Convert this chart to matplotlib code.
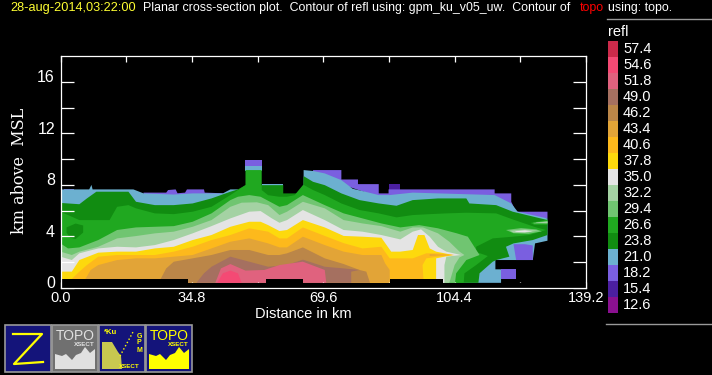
import numpy as np
import matplotlib
matplotlib.use('Agg')
import matplotlib.pyplot as plt
from matplotlib.patches import Rectangle
from matplotlib.transforms import ScaledTranslation

# legend levels and colours
levels = [57.4, 54.6, 51.8, 49.0, 46.2, 43.4, 40.6, 37.8, 35.0, 32.2, 29.4, 26.6, 23.8, 21.0, 18.2, 15.4, 12.6]
colors = ['#cc2a4a', '#f44a74', '#e0627e', '#a57060', '#bb8648', '#e2a437', '#fdb91c', '#fdd90d', '#e4e4e4',
          '#a4d2a3', '#70c571', '#20a820', '#118c11', '#6cb0d0', '#7a5fe0', '#4b1fa0', '#8a1090']
level_color = dict(zip(levels, colors))

x_ticks = [0, 17.4, 34.8, 52.2, 69.6, 87.0, 104.4, 121.8, 139.2]
x_labels = ['0.0', '', '34.8', '', '69.6', '', '104.4', '', '139.2']
y_ticks = [0, 2, 4, 6, 8, 10, 12, 14, 16]
y_labels = ['0', '', '4', '', '8', '', '12', '', '16']

# contour outlines: distance (km), height (km)
dist_15 = [86.9, 89.8, 89.8, 86.9]
height_15 = [8.06, 8.06, 7.6, 7.6]

dist_18a = [0.8, 3.5, 3.5, 0.8]
height_18a = [7.65, 7.65, 7.45, 7.45]
dist_18b = [22, 28, 28.5, 30.5, 31, 33, 33.5, 38, 38.2, 43, 43, 22]
height_18b = [7.4, 7.4, 7.6, 7.65, 7.35, 7.4, 7.65, 7.65, 7.4, 7.35, 7.1, 7.1]
dist_18c = [66.9, 74.4, 74.4, 78.8, 78.8, 84.3, 84.3, 86.9, 86.9, 115, 115, 119.4, 119.4, 120.7, 129, 129, 120, 90, 66.9]
height_18c = [9.15, 9.15, 8.42, 8.42, 8.06, 8.06, 7.34, 7.34, 7.65, 7.65, 7.34, 7.34, 6.69, 5.92, 5.92, 5.4, 5.5, 6.5, 8.8]
dist_18d = [49, 53.3, 53.3, 49]
height_18d = [9.92, 9.92, 9.4, 9.4]

dist_21a = [0, 7.6, 8.2, 8.5, 19.3, 22, 30, 35, 43, 45, 47, 47, 0]
height_21a = [7.65, 7.65, 8.0, 7.65, 7.65, 7.34, 7.25, 7.34, 7.34, 7.65, 7.65, 6.5, 6.0]
dist_21b = [49, 53.3, 53.3, 49]
height_21b = [9.46, 9.46, 9.1, 9.1]
dist_21c = [53.3, 59, 59, 53.3]
height_21c = [8.06, 8.06, 7.9, 7.9]
dist_21d = [64.4, 66.9, 70, 74.4, 77.4, 81, 84.3, 87.2, 93.3, 115, 119.4, 121.1, 129, 129, 125.7, 125.1, 115.2, 115.2,
            116.7, 116.7, 64.4]
height_21d = [9.15, 9.08, 8.89, 8.37, 7.7, 7.45, 7.21, 7.21, 7.4, 7.21, 6.56, 5.92, 5.4, 3.67, 3.46, 2.17, 2.17, 1.45,
              1.45, 0.4, 0.4]

dist_24 = [0, 5, 7, 9.5, 18, 20, 25, 30, 35, 40, 45, 47, 49, 53.3, 59, 59, 64.2, 64.4, 66.9, 70, 74.4, 79.2, 84.3, 89,
           93.3, 100, 107.5, 108.3, 115.4, 119.8, 129, 129, 125.1, 120, 118, 118.9, 115.4, 114.5, 111, 110.7, 0]
height_24 = [6.6, 6.5, 6.95, 7.47, 7.47, 6.69, 6.43, 6.43, 6.56, 6.95, 7.47, 7.65, 7.98, 7.98, 7.98, 7.34, 7.34, 8.68,
             8.24, 7.98, 7.34, 6.82, 6.56, 6.38, 6.82, 6.95, 6.95, 6.56, 6.43, 5.92, 5.27, 4.11, 3.72, 3.46, 3.2, 2.43,
             2.17, 2.04, 1.14, 0.4, 0.4]

dist_27 = [0, 3, 5, 13, 15, 18, 20, 25, 30, 35, 40, 45, 49, 49, 53.3, 53.3, 55, 58, 60, 62, 64.2, 64.4, 66.9, 70, 74.4,
           79.2, 84.3, 89, 93.3, 97.8, 102.2, 107.5, 115.4, 119.8, 124.2, 126, 128.6, 124.2, 119.8, 114.5, 110.1, 110.1,
           113.2, 110.1, 107, 106.8, 0]
height_27 = [5.92, 5.53, 5.27, 5.27, 6.3, 6.43, 6.18, 5.79, 5.73, 5.92, 6.3, 7.21, 7.98, 9.15, 9.15, 7.6, 7.2, 7.08,
             7.08, 7.2, 7.98, 8.0, 7.6, 7.21, 6.56, 6.05, 5.79, 5.48, 5.66, 5.73, 5.79, 5.84, 5.79, 5.32, 4.88, 4.7, 4.5,
             4.11, 3.98, 3.85, 3.2, 2.8, 2.48, 1.78, 1.14, 0.4, 0.4]
dist_blob = [1.6, 4, 6, 6, 4, 2.5, 1.6]
height_blob = [4.7, 5.0, 4.85, 4.3, 3.8, 3.9, 4.3]

dist_29 = [0, 2, 5, 10, 15, 20, 25, 30, 35, 40, 45, 47, 50, 53, 58, 60, 64.2, 70, 75, 80, 85, 90, 95, 100, 105, 107.9,
           111, 107.5, 104.8, 104.5, 0]
height_29 = [3.46, 3.07, 3.15, 3.72, 4.5, 4.7, 4.75, 4.8, 5.14, 5.79, 6.82, 7.08, 7.21, 7.08, 6.3, 6.43, 7.21, 6.43,
             5.79, 5.4, 5.01, 4.7, 4.88, 4.63, 4.24, 3.98, 2.56, 2.17, 1.14, 0.4, 0.4]

dist_32 = [0, 3, 5, 10, 15, 20, 25, 30, 35, 40, 45, 48, 52, 55, 58, 60, 64.2, 70, 75, 80, 85, 90, 93.3, 96, 100, 103,
           105.7, 107, 105.7, 104.4, 103, 0]
height_32 = [2.82, 2.56, 2.82, 3.2, 3.85, 4.03, 4.24, 4.37, 4.75, 5.27, 6.3, 6.62, 6.65, 6.43, 5.66, 5.92, 6.69, 6.18,
             5.27, 5.01, 4.8, 4.37, 4.7, 4.7, 4.24, 3.59, 2.82, 2.56, 2.38, 1.78, 0.4, 0.4]

dist_35 = [0, 3, 5, 10, 15, 20, 25, 30, 35, 40, 45, 50, 53, 56, 58, 60, 64.2, 70, 75, 80, 85, 90, 93.3, 95.5, 97.8, 100,
           102.2, 106.1, 102.2, 101.7, 101.7, 0]
height_35 = [2.43, 2.17, 2.69, 3.07, 3.2, 3.15, 3.33, 3.72, 4.24, 4.8, 5.4, 5.92, 5.97, 5.4, 5.06, 5.27, 6.05, 5.27,
             4.5, 4.37, 4.11, 3.77, 4.37, 4.55, 3.98, 3.2, 2.82, 2.56, 2.43, 1.78, 0.4, 0.4]

dist_38 = [0, 3, 5, 10, 15, 20, 25, 30, 35, 40, 45, 50, 53, 55, 58, 60, 64.2, 70, 75, 80, 85, 87.6, 90, 93.3, 94.7, 96.4,
           97.8, 99.5, 104, 99.5, 99.5, 0]
height_38 = [1.27, 1.27, 2.17, 2.74, 2.82, 2.82, 3.07, 3.2, 3.72, 4.11, 4.75, 5.14, 5.14, 4.88, 4.42, 4.5, 5.27, 4.7,
             4.04, 3.98, 3.9, 2.82, 2.82, 2.95, 4.11, 4.11, 3.07, 2.82, 2.56, 2.3, 0.4, 0.4]

dist_41 = [3, 5, 7, 10, 15, 20, 25, 30, 35, 40, 45, 50, 55, 58, 60, 64.2, 70, 75, 80, 85, 87.2, 93.3, 96.9, 100, 104.4,
           100, 96.9, 95.9, 96.2, 3]
height_41 = [0.7, 1.27, 1.78, 2.43, 2.56, 2.56, 2.56, 2.82, 3.2, 3.72, 4.11, 4.63, 4.37, 3.85, 3.85, 4.7, 4.04, 3.48,
             3.07, 3.2, 2.3, 2.3, 2.69, 2.69, 2.56, 2.43, 2.3, 1.78, 0.4, 0.4]

dist_43 = [6, 8, 10, 15, 20, 25, 30, 35, 40, 45, 50, 55, 58, 60, 64.2, 70, 75, 80, 85, 86, 87.2, 87.2]
height_43 = [0.4, 1.4, 1.78, 2.17, 2.3, 2.3, 2.43, 2.56, 3.07, 3.59, 3.85, 3.46, 3.15, 3.15, 3.98, 3.33, 2.82, 2.56,
             2.56, 1.9, 1.4, 0.4]
dist_43b = [97.8, 103, 97.8]
height_43b = [2.5, 2.56, 2.62]

dist_46 = [26, 28, 30, 35, 40, 45, 50, 55, 58, 60, 64.2, 70, 75, 79.2, 81, 82]
height_46 = [0.4, 1.52, 2.04, 2.3, 2.56, 2.95, 2.95, 2.56, 2.56, 2.69, 3.15, 2.3, 1.86, 1.4, 1.27, 0.4]

dist_49 = [36, 38, 40, 45, 50, 55, 60, 64.2, 70, 75, 79.2, 77, 77]
height_49 = [0.4, 1.14, 1.65, 2.43, 2.04, 1.65, 1.78, 2.2, 1.65, 1.52, 1.4, 1.27, 0.4]

dist_52 = [41, 42.5, 45, 49, 54, 58, 64.2, 70, 70.4]
height_52 = [0.4, 1.52, 1.86, 1.35, 1.4, 1.78, 2.04, 1.4, 0.4]

dist_55 = [41.5, 43, 45, 47, 48]
height_55 = [0.4, 1.14, 1.35, 1.14, 0.4]

# patches on top of the lower levels, right of the main body
dist_18e = [116.7, 120.7, 120.7, 116.7]
height_18e = [1.45, 1.45, 0.7, 0.7]
dist_18f = [120, 123, 125.1, 125.1, 120.7]
height_18f = [3.4, 3.4, 3.3, 2.17, 2.17]

dist_lens_29 = [118, 122, 126, 127.5, 124, 120]
height_lens_29 = [4.5, 4.65, 4.55, 4.4, 4.2, 4.25]
dist_lens_32 = [119, 123, 126.5, 123, 120]
height_lens_32 = [4.45, 4.55, 4.45, 4.28, 4.3]
dist_lens_35 = [120.5, 123, 125, 123, 120.5]
height_lens_35 = [4.4, 4.48, 4.4, 4.33, 4.35]
dist_lens2_27 = [124.5, 129, 129, 125.5]
height_lens2_27 = [5.05, 5.3, 4.9, 4.9]
dist_lens2_29 = [125.1, 129, 129, 125.5]
height_lens2_29 = [5.05, 5.2, 5.0, 5.0]
dist_lens2_32 = [126, 129, 129, 126]
height_lens2_32 = [5.08, 5.15, 5.03, 5.05]

# black gap at the bottom of the section
floor_dist = [0, 33.8, 54.5, 64.3, 87.2, 101.3, 139.2]
floor_height = [0.7, 0.41, 0.7, 0.41, 0.7, 0.41, 0.41]

layers = [
    (dist_15, height_15, 15.4), (dist_18a, height_18a, 18.2), (dist_18b, height_18b, 18.2),
    (dist_18c, height_18c, 18.2), (dist_18d, height_18d, 18.2), (dist_21a, height_21a, 21.0),
    (dist_21b, height_21b, 21.0), (dist_21c, height_21c, 21.0), (dist_21d, height_21d, 21.0),
    (dist_18e, height_18e, 18.2), (dist_18f, height_18f, 18.2), (dist_24, height_24, 23.8),
    (dist_27, height_27, 26.6), (dist_blob, height_blob, 23.8), (dist_lens2_27, height_lens2_27, 26.6),
    (dist_lens_29, height_lens_29, 29.4), (dist_lens_32, height_lens_32, 32.2), (dist_lens_35, height_lens_35, 35.0),
    (dist_lens2_29, height_lens2_29, 29.4), (dist_lens2_32, height_lens2_32, 32.2),
    (dist_29, height_29, 29.4), (dist_32, height_32, 32.2), (dist_35, height_35, 35.0),
    (dist_38, height_38, 37.8), (dist_41, height_41, 40.6), (dist_43, height_43, 43.4),
    (dist_43b, height_43b, 43.4), (dist_46, height_46, 46.2), (dist_49, height_49, 49.0),
    (dist_52, height_52, 51.8), (dist_55, height_55, 54.6),
]

W, H = 712, 375
plt.rcParams['font.family'] = ['Liberation Sans', 'DejaVu Sans']
fig = plt.figure(figsize=(W / 100, H / 100), dpi=100, facecolor='black')

ax = fig.add_axes([60.5 / W, (H - 288) / H, 525.5 / W, 232 / H], facecolor='black')
for d, h, lev in layers:
    ax.fill(d, h, color=level_color[lev], lw=0)
ax.fill_between(floor_dist, 0, floor_height, step='post', color='black', lw=0, zorder=3)
ax.set_xlim(0, 139.2)
ax.set_ylim(0, 18)
for s in ax.spines.values():
    s.set_color('white')
    s.set_linewidth(0.9)
    s.set_zorder(5)
ax.set_xticks(x_ticks)
ax.set_xticklabels(x_labels)
ax.set_yticks(y_ticks)
ax.set_yticklabels(y_labels)
ax.tick_params(axis='x', direction='in', top=True, length=4.3, width=0.9, colors='white', labelsize=10.5, pad=2)
ax.tick_params(axis='y', direction='in', right=True, length=9.5, width=0.9, colors='white', labelsize=11.5, pad=4)
shift = ScaledTranslation(0, 4 / 72, fig.dpi_scale_trans)
for lab in ax.get_yticklabels():
    lab.set_transform(lab.get_transform() + shift)

# screen overlay, in pixels, for the header, legend and buttons
ov = fig.add_axes([0, 0, 1, 1], facecolor='none')
ov.set_xlim(0, W)
ov.set_ylim(H, 0)
ov.axis('off')

ov.text(303, 314, 'Distance in km', color='white', fontsize=10.5, ha='center', va='center')
ov.text(20, 171, 'km above  MSL', color='white', fontsize=11.5, family='DejaVu Serif', rotation=90, ha='center', va='center')

ov.text(10, 8, '28-aug-2014,03:22:00', color='#ffff33', fontsize=9.2, va='center')
ov.text(143, 8, 'Planar cross-section plot.  Contour of refl using: gpm_ku_v05_uw.  Contour of', color='white', fontsize=8.95, va='center')
ov.text(580, 8, 'topo', color='red', fontsize=8.95, va='center')
ov.text(608, 8, 'using: topo.', color='white', fontsize=8.95, va='center')

ov.plot([607, 712], [19, 19], color='#999999', lw=1)
ov.plot([606, 712], [324, 324], color='#999999', lw=1)
ov.text(608, 32, 'refl', color='white', fontsize=10.5, va='center')
for i, (lev, col) in enumerate(zip(levels, colors)):
    ov.add_patch(Rectangle((608, 41 + 16 * i), 10, 16, color=col, lw=0))
    ov.text(623, 49 + 16 * i, '%.1f' % lev, color='white', fontsize=10.5, va='center')

# buttons
navy = '#14147a'
for i, x0 in enumerate([5, 52, 99, 146]):
    face = '#707070' if i == 1 else navy
    ov.add_patch(Rectangle((x0, 325), 46, 47, facecolor=face, edgecolor='#999999', lw=1.2))

ov.plot([13, 42, 14, 43], [334, 334, 364, 362], color='yellow', lw=1.6)

ground_x = np.array([3, 10, 14, 20, 24, 29, 33, 38, 43, 43, 3])
ground_y = np.array([29, 31, 29, 35, 30, 28, 22, 28, 24, 44, 44]) + 325
ov.fill(ground_x + 52, ground_y, color='#e0e0e0', lw=0)
ov.text(75, 336, 'TOPO', color='#e0e0e0', fontsize=10, ha='center', va='center')
ov.text(84, 344, 'XSECT', color='#e0e0e0', fontsize=4.5, ha='center', va='center', weight='bold')

ov.fill(ground_x + 146, ground_y, color='yellow', lw=0)
ov.text(169, 336, 'TOPO', color='yellow', fontsize=10, ha='center', va='center')
ov.text(178, 344, 'XSECT', color='yellow', fontsize=4.5, ha='center', va='center', weight='bold')

ov.fill([102, 112, 118, 121, 122, 102], [342, 342, 352, 356, 369, 369], color='#c8c850', lw=0)
ov.text(111, 333, '*Ku', color='yellow', fontsize=5.5, ha='center', va='center', weight='bold')
ov.text(129, 367, 'XSECT', color='yellow', fontsize=4.5, ha='center', va='center', weight='bold')
ov.plot([120, 133], [356, 332], color='yellow', lw=1, ls=':')
for j, ch in enumerate('GPM'):
    ov.text(139, 336 + 7 * j, ch, color='yellow', fontsize=5, ha='center', va='center', weight='bold')

fig.savefig('out.png', dpi=100, facecolor='black')
